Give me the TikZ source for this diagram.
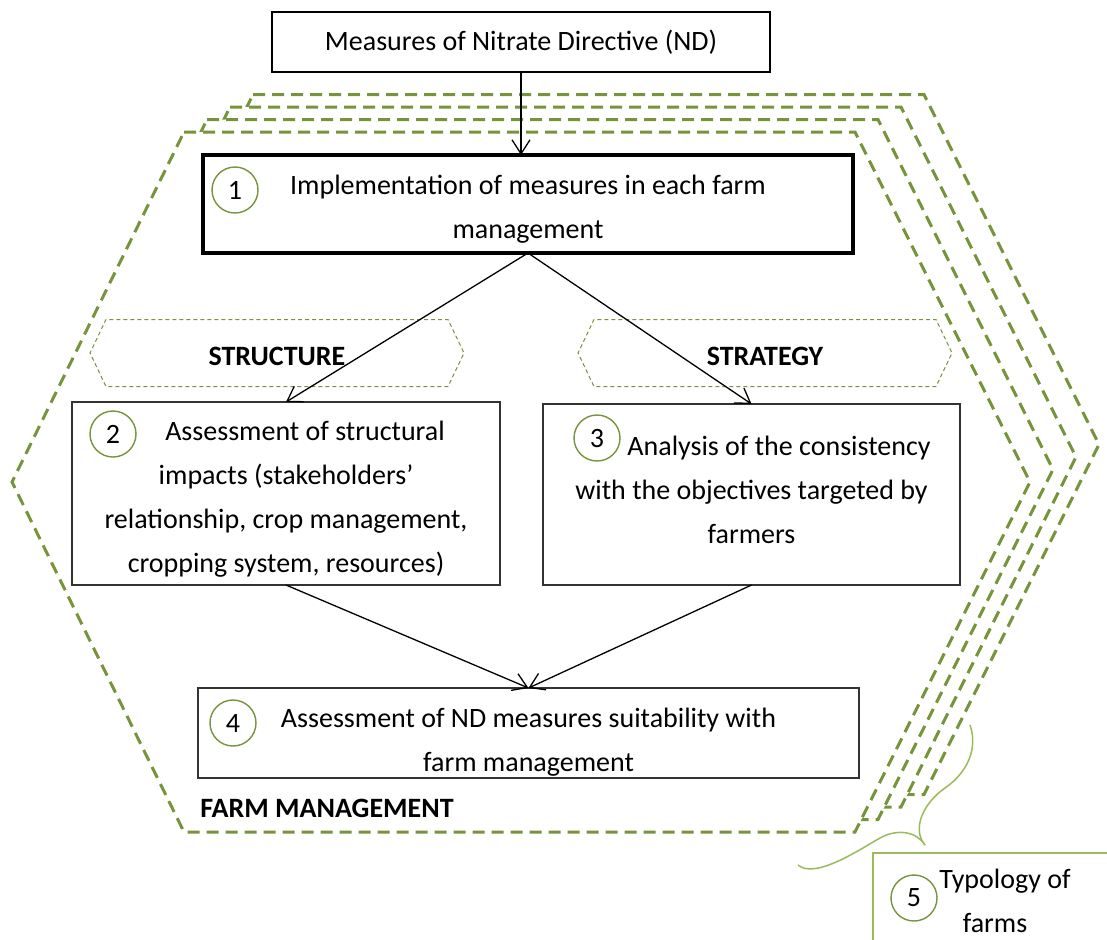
\documentclass[tikz,border=0pt]{standalone}
\usepackage{fontspec}
\setmainfont{Carlito}
\usepackage{xcolor}
\usepackage{tikz}
\usetikzlibrary{positioning,arrows.meta,shapes.symbols}

\definecolor{farmgreen}{HTML}{77933C}
\definecolor{leafgreen}{HTML}{9BBB59}

\begin{document}
\begin{tikzpicture}[
    x=0.5pt, y=-0.5pt,
    font=\fontsize{14}{22}\selectfont,
    box/.style={
        draw=black!80, line width=0.7pt, rectangle, align=center,
        inner sep=0pt, outer sep=0pt
    },
    topbox/.style={box, draw=black, line width=1pt},
    mainbox/.style={box, draw=black, line width=1.6pt},
    numcirc/.style={
        draw=farmgreen, circle, line width=0.7pt,
        minimum size=23pt, inner sep=0pt
    },
    taghex/.style={
        draw=farmgreen, signal, signal to=west and east,
        signal pointer angle=129, line width=0.5pt,
        dash pattern=on 2pt off 1.5pt,
        minimum width=187pt, minimum height=33.5pt, inner sep=0pt,
        font=\fontsize{14}{22}\selectfont\bfseries
    },
    farmhex/.style={
        draw=farmgreen, fill=white, line width=1.5pt,
        dash pattern=on 6pt off 3.5pt
    },
    typbox/.style={
        draw=leafgreen, line width=0.8pt, rectangle, align=center,
        inner sep=0pt, outer sep=0pt
    },
    bracecurve/.style={draw=leafgreen, line width=0.75pt},
    arr/.style={-{Straight Barb[length=7pt,width=9pt]}, line width=0.65pt}
    ]
    
    \clip (0,0) rectangle (1107,939);
    
    %==================== FARM MANAGEMENT (stacked hexagons) ====================
    \foreach \k in {3,2,1,0}{
        \draw[farmhex, shift={(23*\k,-12.5*\k)}]
            (184,132) -- (855,132) -- (1030,482) -- (855,832)
            -- (184,832) -- (12,482) -- cycle;
    }
    
    %==================== ND measures ====================
    \node[topbox, minimum width=249pt, minimum height=30pt] (nd) at (521,42)
        {Measures of Nitrate Directive (ND)};
    
    \node[mainbox, minimum width=325pt, minimum height=49pt,
        below=41.5pt of nd, xshift=3.5pt] (impl)
        {\rule{0pt}{14.5pt}Implementation of measures in each farm\\management};
    
    %==================== STRUCTURE / STRATEGY ====================
    \node[box, minimum width=214pt, minimum height=91.5pt,
        below=74.5pt of impl, xshift=-121pt] (struct) {
        \rule{0pt}{15.5pt}\hspace*{19pt}Assessment of structural\\
        impacts (stakeholders’\\
        relationship, crop management,\\
        cropping system, resources)
    };
    
    \node[box, minimum width=208.5pt, minimum height=90.5pt,
        below=75.5pt of impl, xshift=111.75pt] (strat) {
        \hspace*{27.5pt}Analysis of the consistency\\
        with the objectives targeted by\\
        farmers\rule[-5pt]{0pt}{5pt}
    };
    
    \node[taghex, above=7.5pt of struct, xshift=-4.5pt] (structure)
        {\rule{0pt}{12.5pt}STRUCTURE};
    \node[taghex, above=8.5pt of strat, xshift=6.75pt] (strategy)
        {\rule{0pt}{12.5pt}STRATEGY};
    
    %==================== suitability ====================
    \node[box, minimum width=330.5pt, minimum height=45pt,
        below=51.5pt of struct, xshift=121.25pt] (suit) {
        \rule{0pt}{18.5pt}Assessment of ND measures suitability with\\
        farm management
    };
    
    \node[anchor=west, inner sep=0pt, font=\fontsize{14}{22}\selectfont\bfseries]
        (farmlbl) at ([xshift=1pt, yshift=-15pt]suit.south west) {FARM MANAGEMENT};
    
    %==================== typology ====================
    \node[typbox, minimum width=127pt, minimum height=48pt, anchor=north west]
        (typo) at (873,853) {\hspace*{5pt}Typology of\\farms\hspace*{5pt}};
    
    \coordinate (brtop) at (970,725);
    \coordinate (brtip) at (925,845);
    \coordinate (brend) at (798,865);
    \draw[bracecurve] (brtop) .. controls (978,748) and (968,772) .. (945,788)
        .. controls (922,804) and (912,830) .. (brtip);
    \draw[bracecurve] (brtip) .. controls (917,832) and (898,828) .. (880,838)
        .. controls (862,848) and (815,880) .. (brend);
    
    %==================== numbers ====================
    \node[numcirc] (c1) at ([xshift=16pt, yshift=-17.5pt]impl.north west) {1};
    \node[numcirc] (c2) at ([xshift=20.5pt, yshift=-16pt]struct.north west) {2};
    \node[numcirc] (c3) at ([xshift=27pt, yshift=-17pt]strat.north west) {3};
    \node[numcirc] (c4) at ([xshift=17.5pt, yshift=-17.5pt]suit.north west) {4};
    \node[numcirc] (c5) at ([xshift=20.5pt, yshift=-22.5pt]typo.north west) {5};
    
    %==================== arrows ====================
    \draw[arr] (nd.south) -- (nd.south |- impl.north);
    \draw[arr] (impl.south) -- (struct.north);
    \draw[arr] (impl.south) -- (strat.north);
    \draw[arr] (struct.south) -- (suit.north);
    \draw[arr] (strat.south) -- (suit.north);
    
\end{tikzpicture}
\end{document}
